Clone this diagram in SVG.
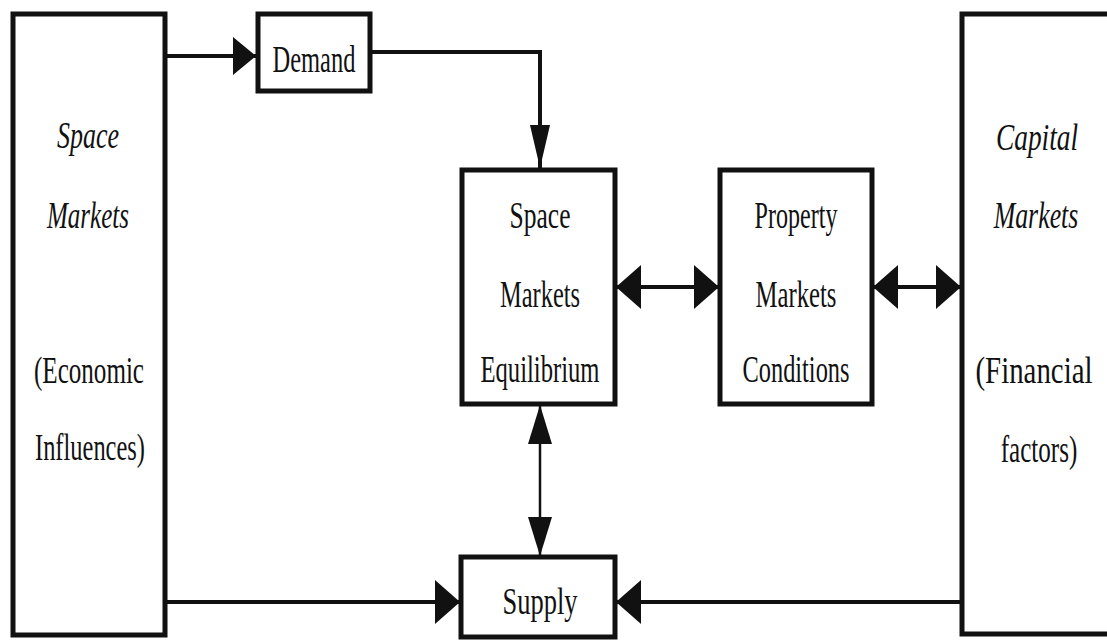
<svg xmlns="http://www.w3.org/2000/svg" width="1107" height="640" viewBox="0 0 1107 640">
<style>
.box{fill:#fff;stroke:#111;stroke-width:5}
.t{font-family:"Liberation Serif","Times New Roman",serif;font-size:38px;fill:#111;text-anchor:middle}
.i{font-style:italic}
.ln{stroke:#111;stroke-width:4;fill:none}
</style>
<defs>
<marker id="mH" markerUnits="userSpaceOnUse" markerWidth="26" markerHeight="46" refX="25" refY="23" orient="auto-start-reverse"><path d="M0,1 L25,23 L0,45 Z" fill="#111"/></marker>
<marker id="mD" markerUnits="userSpaceOnUse" markerWidth="24" markerHeight="40" refX="23" refY="20" orient="auto"><path d="M0,1 L23,20 L0,39 Z" fill="#111"/></marker>
<marker id="mV" markerUnits="userSpaceOnUse" markerWidth="44" markerHeight="22" refX="43" refY="11" orient="auto"><path d="M0,1 L43,11 L0,21 Z" fill="#111"/></marker>
<marker id="mS" markerUnits="userSpaceOnUse" markerWidth="40" markerHeight="26" refX="39" refY="13" orient="auto-start-reverse"><path d="M0,1 L39,13 L0,25 Z" fill="#111"/></marker>
</defs>
<rect width="1107" height="640" fill="#fff"/>
<g id="connectors">
<line class="ln" x1="165" y1="56" x2="256" y2="56" marker-end="url(#mD)"/>
<polyline class="ln" points="370,52 540,52 540,168" marker-end="url(#mV)"/>
<line class="ln" x1="616" y1="287" x2="719" y2="287" marker-start="url(#mH)" marker-end="url(#mH)"/>
<line class="ln" x1="873" y1="287" x2="961" y2="287" marker-start="url(#mH)" marker-end="url(#mH)"/>
<line x1="540" y1="405" x2="540" y2="556" stroke="#111" stroke-width="2.5" marker-start="url(#mS)" marker-end="url(#mS)"/>
<line class="ln" x1="165" y1="602" x2="460" y2="602" marker-end="url(#mH)"/>
<line class="ln" x1="962" y1="602" x2="616" y2="602" marker-end="url(#mH)"/>
</g>
<g id="space-markets">
<rect class="box" x="13" y="14" width="152" height="621"/>
<text class="t i" x="88" y="148" textLength="62" lengthAdjust="spacingAndGlyphs">Space</text>
<text class="t i" x="88" y="228" textLength="82" lengthAdjust="spacingAndGlyphs">Markets</text>
<text class="t" x="89" y="383" textLength="110" lengthAdjust="spacingAndGlyphs">(Economic</text>
<text class="t" x="90" y="460" textLength="110" lengthAdjust="spacingAndGlyphs">Influences)</text>
</g>
<g id="demand">
<rect class="box" x="258" y="14" width="112" height="77" stroke-width="4"/>
<text class="t" x="314" y="72" textLength="83" lengthAdjust="spacingAndGlyphs">Demand</text>
</g>
<g id="space-markets-equilibrium">
<rect class="box" x="462" y="170" width="153" height="234" stroke-width="4"/>
<text class="t" x="540" y="228" textLength="61" lengthAdjust="spacingAndGlyphs">Space</text>
<text class="t" x="540" y="307" textLength="80" lengthAdjust="spacingAndGlyphs">Markets</text>
<text class="t" x="540" y="382" textLength="119" lengthAdjust="spacingAndGlyphs">Equilibrium</text>
</g>
<g id="property-markets-conditions">
<rect class="box" x="720" y="170" width="152" height="234" stroke-width="4"/>
<text class="t" x="796" y="228" textLength="83" lengthAdjust="spacingAndGlyphs">Property</text>
<text class="t" x="796" y="307" textLength="81" lengthAdjust="spacingAndGlyphs">Markets</text>
<text class="t" x="796" y="382" textLength="107" lengthAdjust="spacingAndGlyphs">Conditions</text>
</g>
<g id="supply">
<rect class="box" x="461" y="557" width="154" height="80" stroke-width="4"/>
<text class="t" x="540" y="614" textLength="75" lengthAdjust="spacingAndGlyphs">Supply</text>
</g>
<g id="capital-markets">
<rect x="962" y="14" width="145" height="620" fill="#fff"/>
<path d="M1107,14 H962 V634 H1107" fill="none" stroke="#111" stroke-width="5"/>
<text class="t i" transform="translate(1037,150) scale(0.72,1)" x="0" y="0">Capital</text>
<text class="t i" transform="translate(1036,228) scale(0.68,1)" x="0" y="0">Markets</text>
<text class="t" transform="translate(1034,383) scale(0.76,1)" x="0" y="0">(Financial</text>
<text class="t" transform="translate(1039,462) scale(0.66,1)" x="0" y="0">factors)</text>
</g>
</svg>
